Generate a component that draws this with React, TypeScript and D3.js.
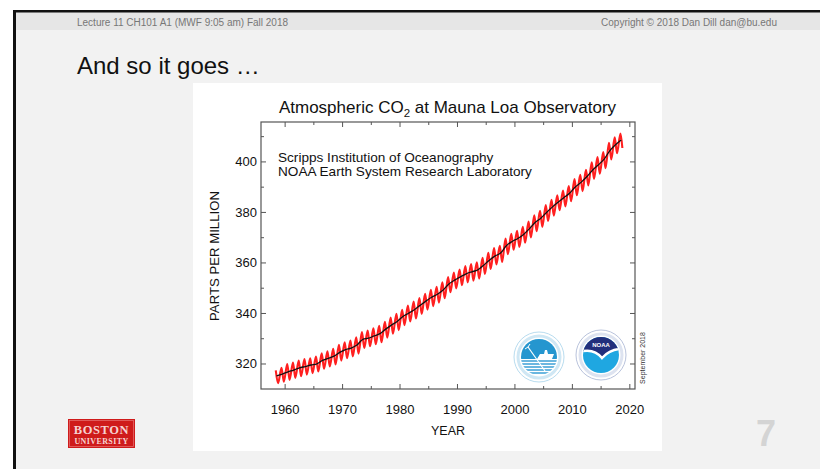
import React from 'react';
import * as d3 from 'd3';

// ---------- data ----------
const years = [
  1958, 1959, 1960, 1961, 1962, 1963, 1964, 1965, 1966, 1967,
  1968, 1969, 1970, 1971, 1972, 1973, 1974, 1975, 1976, 1977,
  1978, 1979, 1980, 1981, 1982, 1983, 1984, 1985, 1986, 1987,
  1988, 1989, 1990, 1991, 1992, 1993, 1994, 1995, 1996, 1997,
  1998, 1999, 2000, 2001, 2002, 2003, 2004, 2005, 2006, 2007,
  2008, 2009, 2010, 2011, 2012, 2013, 2014, 2015, 2016, 2017,
  2018,
];
// seasonally corrected (annual mean) ppm
const annualMean = [
  315.3, 316.0, 316.9, 317.6, 318.5, 319.0, 319.6, 320.0, 321.4, 322.2,
  323.1, 324.6, 325.7, 326.3, 327.5, 329.7, 330.2, 331.1, 332.0, 333.8,
  335.4, 336.8, 338.8, 340.1, 341.5, 343.2, 344.9, 346.4, 347.6, 349.3,
  351.7, 353.2, 354.5, 355.7, 356.5, 357.2, 359.0, 361.0, 362.7, 363.9,
  366.8, 368.5, 369.7, 371.3, 373.5, 376.0, 377.7, 380.0, 382.1, 384.0,
  385.8, 387.6, 390.1, 391.9, 394.1, 396.7, 398.8, 401.0, 404.4, 406.8,
  408.7,
];
// monthly record: seasonal maximum (May) and minimum (Sep/Oct) ppm
const seasonalHigh = [
  317.5, 318.5, 320.0, 320.6, 321.4, 322.0, 322.3, 322.9, 324.2, 325.0,
  326.0, 327.6, 328.6, 329.3, 330.6, 332.6, 333.2, 334.1, 335.1, 336.7,
  338.4, 339.9, 341.5, 343.1, 344.7, 346.1, 347.8, 349.4, 350.6, 352.3,
  354.4, 356.2, 357.4, 358.8, 359.6, 360.3, 362.0, 364.0, 365.9, 366.8,
  369.7, 371.5, 372.7, 374.3, 376.4, 378.9, 380.6, 382.9, 385.0, 386.8,
  388.7, 390.4, 393.2, 394.9, 396.9, 399.8, 401.9, 403.9, 407.6, 409.7,
  411.2,
];
const seasonalLow = [
  312.4, 313.0, 313.7, 314.5, 315.2, 315.8, 316.4, 317.0, 318.1, 319.0,
  319.8, 321.3, 322.3, 323.0, 324.1, 326.4, 327.0, 327.8, 328.6, 330.4,
  332.0, 333.4, 335.4, 336.8, 338.0, 339.8, 341.5, 342.9, 344.3, 346.0,
  348.4, 349.9, 351.2, 352.3, 353.0, 353.8, 355.6, 357.6, 359.4, 360.4,
  363.5, 365.2, 366.3, 368.0, 370.1, 372.6, 374.3, 376.6, 378.7, 380.9,
  382.4, 384.4, 386.8, 388.4, 390.7, 393.3, 395.3, 397.5, 401.0, 403.4,
  405.5,
];
const xMajorTicks = [1960, 1970, 1980, 1990, 2000, 2010, 2020];
const xMinorTicks = [1965, 1975, 1985, 1995, 2005, 2015];
const yMajorTicks = [320, 340, 360, 380, 400];
const yMinorTicks = [330, 350, 370, 390, 410];

const FONT = '"Liberation Sans", Arial, Helvetica, sans-serif';
const SERIF = '"Liberation Serif", "DejaVu Serif", serif';

export default function App() {
  const W = 820;
  const H = 469;
  const plot = { left: 261, right: 635, top: 122, bottom: 389 };
  const x = d3.scaleLinear().domain([1955.8, 2020.9]).range([plot.left, plot.right]);
  const y = d3.scaleLinear().domain([310.1, 415.8]).range([plot.bottom, plot.top]);

  const redPts: [number, number][] = [];
  years.forEach((yr, i) => {
    redPts.push([yr + 0.37, seasonalHigh[i]]);
    redPts.push([yr + (i === years.length - 1 ? 0.7 : 0.77), seasonalLow[i]]);
  });
  const blackPts: [number, number][] = years.map((yr, i) => [yr + 0.5, annualMean[i]]);

  const redLine = d3
    .line<[number, number]>()
    .x((d) => x(d[0]))
    .y((d) => y(d[1]))
    .curve(d3.curveMonotoneX)(redPts) as string;
  const blackLine = d3
    .line<[number, number]>()
    .x((d) => x(d[0]))
    .y((d) => y(d[1]))
    .curve(d3.curveMonotoneX)(blackPts) as string;

  const major = 5;
  const minor = 3;
  const frameColor = '#555';

  const s = { cx: 539, cy: 357, r: 25 };
  const n = { cx: 601, cy: 355, r: 25 };

  return (
    <svg
      width={W}
      height={H}
      style={{ position: 'absolute', left: 0, top: 0, display: 'block' }}
      xmlns="http://www.w3.org/2000/svg"
    >
      <defs>
        <clipPath id="sclip">
          <circle cx={s.cx} cy={s.cy} r={18} />
        </clipPath>
        <clipPath id="nclip">
          <circle cx={n.cx} cy={n.cy} r={18} />
        </clipPath>
      </defs>
      {/* page */}
      <rect x={0} y={0} width={W} height={H} fill="#ffffff" />
      <rect x={14} y={10} width={W - 14} height={H - 10} fill="#f2f2f2" />
      <rect x={16} y={12} width={W - 16} height={18} fill="#e6e6e6" />
      <rect x={14} y={10} width={W - 14} height={2.5} fill="#111" />
      <rect x={13} y={10} width={3} height={H - 10} fill="#111" />

      <text x={77} y={26} fontFamily={FONT} fontSize={10} fill="#777">
        Lecture 11 CH101 A1 (MWF 9:05 am) Fall 2018
      </text>
      <text x={777} y={26} fontFamily={FONT} fontSize={10} fill="#777" textAnchor="end">
        Copyright © 2018 Dan Dill dan@bu.edu
      </text>

      <text x={77} y={74} fontFamily={FONT} fontSize={24} fill="#111">
        And so it goes …
      </text>

      {/* chart panel */}
      <rect x={193} y={83} width={469} height={368} fill="#ffffff" />

      <text x={447.5} y={113} fontFamily={FONT} fontSize={17} fill="#111" textAnchor="middle">
        Atmospheric CO
        <tspan fontSize={11.5} dy={4}>2</tspan>
        <tspan dy={-4}> at Mauna Loa Observatory</tspan>
      </text>

      <text x={278} y={161.5} fontFamily={FONT} fontSize={13.6} fill="#111">
        Scripps Institution of Oceanography
      </text>
      <text x={278} y={175.5} fontFamily={FONT} fontSize={13.6} fill="#111">
        NOAA Earth System Research Laboratory
      </text>

      {/* data */}
      <path d={redLine} fill="none" stroke="#ff1f1f" strokeWidth={2.1} strokeLinejoin="round" />
      <path d={blackLine} fill="none" stroke="#111" strokeWidth={1.3} />

      {/* frame */}
      <rect
        x={plot.left}
        y={plot.top}
        width={plot.right - plot.left}
        height={plot.bottom - plot.top}
        fill="none"
        stroke={frameColor}
        strokeWidth={1.2}
      />
      {xMajorTicks.map((t) => (
        <g key={'xm' + t}>
          <line x1={x(t)} x2={x(t)} y1={plot.bottom} y2={plot.bottom - major} stroke={frameColor} />
          <line x1={x(t)} x2={x(t)} y1={plot.top} y2={plot.top + major} stroke={frameColor} />
          <text x={x(t)} y={413.5} fontFamily={FONT} fontSize={13} fill="#111" textAnchor="middle">
            {t}
          </text>
        </g>
      ))}
      {xMinorTicks.map((t) => (
        <g key={'xn' + t}>
          <line x1={x(t)} x2={x(t)} y1={plot.bottom} y2={plot.bottom - minor} stroke={frameColor} />
          <line x1={x(t)} x2={x(t)} y1={plot.top} y2={plot.top + minor} stroke={frameColor} />
        </g>
      ))}
      {yMajorTicks.map((t) => (
        <g key={'ym' + t}>
          <line x1={plot.left} x2={plot.left + major} y1={y(t)} y2={y(t)} stroke={frameColor} />
          <line x1={plot.right} x2={plot.right - major} y1={y(t)} y2={y(t)} stroke={frameColor} />
          <text x={257} y={y(t) + 4.5} fontFamily={FONT} fontSize={13} fill="#111" textAnchor="end">
            {t}
          </text>
        </g>
      ))}
      {yMinorTicks.map((t) => (
        <g key={'yn' + t}>
          <line x1={plot.left} x2={plot.left + minor} y1={y(t)} y2={y(t)} stroke={frameColor} />
          <line x1={plot.right} x2={plot.right - minor} y1={y(t)} y2={y(t)} stroke={frameColor} />
        </g>
      ))}

      <text x={448} y={434.5} fontFamily={FONT} fontSize={12.5} fill="#111" textAnchor="middle">
        YEAR
      </text>
      <text
        transform="translate(219,256) rotate(-90)"
        fontFamily={FONT}
        fontSize={13.2}
        fill="#111"
        textAnchor="middle"
      >
        PARTS PER MILLION
      </text>
      <text
        transform="translate(645,358) rotate(-90)"
        fontFamily={FONT}
        fontSize={7}
        fill="#333"
        textAnchor="middle"
      >
        September 2018
      </text>

      {/* Scripps logo */}
      <circle cx={s.cx} cy={s.cy} r={s.r} fill="#fff" stroke="#b8dcef" strokeWidth={1} />
      <circle cx={s.cx} cy={s.cy} r={21} fill="none" stroke="#cfe7f4" strokeWidth={3} />
      <g clipPath="url(#sclip)">
        <rect x={s.cx - 18} y={s.cy - 18} width={36} height={36} fill="#ffffff" />
        <rect x={s.cx - 18} y={s.cy - 18} width={36} height={20} fill="#2596cf" />
        {[4, 7, 10, 13, 16].map((dy) => (
          <line
            key={dy}
            x1={s.cx - 18}
            x2={s.cx + 18}
            y1={s.cy + dy}
            y2={s.cy + dy}
            stroke="#3a9fd6"
            strokeWidth={1.4}
          />
        ))}
        <path
          d={`M${s.cx - 2},${s.cy + 2} L${s.cx + 1},${s.cy - 3} L${s.cx + 5},${s.cy - 3} L${s.cx + 6},${s.cy - 7} L${s.cx + 8},${s.cy - 7} L${s.cx + 9},${s.cy - 3} L${s.cx + 15},${s.cy - 3} L${s.cx + 13},${s.cy + 2} Z`}
          fill="#ffffff"
        />
        <line x1={s.cx - 11} y1={s.cy - 10} x2={s.cx + 6} y2={s.cy + 14} stroke="#ffffff" strokeWidth={1.2} />
        <path
          d={`M${s.cx - 14},${s.cy - 8} L${s.cx - 11},${s.cy - 10} L${s.cx - 9},${s.cy - 13}`}
          fill="none"
          stroke="#ffffff"
          strokeWidth={1}
        />
      </g>

      {/* NOAA logo */}
      <circle cx={n.cx} cy={n.cy} r={n.r} fill="#fff" stroke="#b9c3dc" strokeWidth={1} />
      <circle cx={n.cx} cy={n.cy} r={21} fill="none" stroke="#dde3f0" strokeWidth={3} />
      <g clipPath="url(#nclip)">
        <rect x={n.cx - 18} y={n.cy - 18} width={36} height={36} fill="#1fa7e1" />
        <path
          d={`M${n.cx - 18},${n.cy - 4} Q${n.cx - 6},${n.cy - 6} ${n.cx + 1},${n.cy + 3} Q${n.cx + 8},${n.cy - 5} ${n.cx + 18},${n.cy - 6} L${n.cx + 18},${n.cy - 18} L${n.cx - 18},${n.cy - 18} Z`}
          fill="#222f7c"
        />
        <path
          d={`M${n.cx - 18},${n.cy - 4} Q${n.cx - 6},${n.cy - 6} ${n.cx + 1},${n.cy + 3} Q${n.cx + 8},${n.cy - 5} ${n.cx + 18},${n.cy - 6}`}
          fill="none"
          stroke="#ffffff"
          strokeWidth={2.5}
        />
        <text
          x={n.cx}
          y={n.cy - 8}
          fontFamily={FONT}
          fontSize={6}
          fontWeight="bold"
          fill="#ffffff"
          textAnchor="middle"
        >
          NOAA
        </text>
      </g>

      {/* Boston University logo */}
      <rect x={68} y={419} width={67} height={29} fill="#cf1b1b" />
      <rect x={69.5} y={420.5} width={64} height={26} fill="none" stroke="#e46a6a" strokeWidth={0.8} />
      <text
        x={101.5}
        y={433.5}
        fontFamily={SERIF}
        fontSize={12.5}
        fontWeight="bold"
        letterSpacing={0.6}
        fill="#f6d2d2"
        textAnchor="middle"
      >
        BOSTON
      </text>
      <text
        x={101.5}
        y={444}
        fontFamily={SERIF}
        fontSize={8}
        fontWeight="bold"
        letterSpacing={0.4}
        fill="#f6d2d2"
        textAnchor="middle"
      >
        UNIVERSITY
      </text>

      {/* slide number */}
      <text x={766} y={446} fontFamily={FONT} fontSize={36} fontWeight="bold" fill="#d4d4d4" textAnchor="middle">
        7
      </text>
    </svg>
  );
}
